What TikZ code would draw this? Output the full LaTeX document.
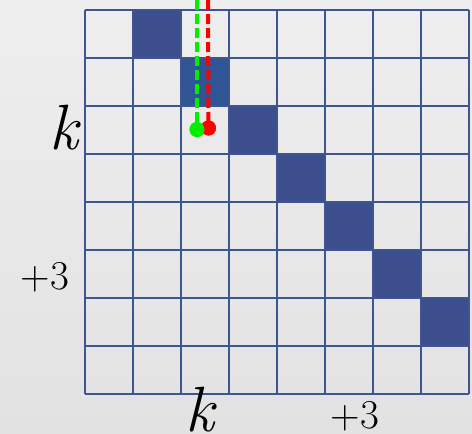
\documentclass[tikz,border=0pt]{standalone}
\usepackage{tikz}
\definecolor{bgA}{HTML}{EEEEEE}
\definecolor{bgB}{HTML}{E2E2E2}
\definecolor{gridc}{HTML}{3F5591}
\definecolor{cellc}{HTML}{3C4F8C}
\definecolor{cellb}{HTML}{2F5597}
\definecolor{grn}{HTML}{00EE00}
\definecolor{rd}{HTML}{FF0000}
\tikzset{
  gridline/.style={draw=gridc, line width=2pt},
  filled/.style={fill=cellc},
  filledb/.style={fill=cellb},
  pathline/.style={line width=4pt, dash pattern=on 10pt off 4pt},
  dot/.style={circle, inner sep=0pt, minimum size=15pt},
  lbl/.style={inner sep=0pt, anchor=base},
}
\begin{document}
\begin{tikzpicture}[x=1pt,y=-1pt]
\useasboundingbox (0,0) rectangle (472,434);
\shade[top color=bgA, bottom color=bgB] (0,0) rectangle (472,434);
% filled cells
\foreach \c/\r in {1/0,3/2,4/3,5/4,6/5,7/6}{
  \fill[filled] (85+48*\c,9.5+48*\r) rectangle ++(48,48);
}
\fill[filledb] (85+48*2,9.5+48*1) rectangle ++(48,48);
% grid
\foreach \i in {0,...,8}{
  \draw[gridline] (85+48*\i,9.5) -- (85+48*\i,393.5);
  \draw[gridline] (85,9.5+48*\i) -- (469,9.5+48*\i);
}
% paths
\coordinate (rtop) at (208,0);
\coordinate (gtop) at (197,0);
\node[dot, fill=rd] (rdot) at (208.5,128) {};
\node[dot, fill=grn] (gdot) at (197,129.5) {};
\draw[pathline, draw=rd] (rtop) -- (rdot.center);
\draw[pathline, draw=grn] (gtop) -- (gdot.center);
\node[dot, fill=rd] at (rdot) {};
\node[dot, fill=grn] at (gdot) {};
% labels
\node[lbl] (kl) at (64,149) {\fontsize{64}{64}\selectfont\itshape k};
\node[lbl] (kb) at (200,431) {\fontsize{64}{64}\selectfont\itshape k};
\node[lbl] (pl) at (45,289) {\fontsize{41}{41}\selectfont +3};
\node[lbl] (pb) at (355,428) {\fontsize{41}{41}\selectfont +3};
\end{tikzpicture}
\end{document}
